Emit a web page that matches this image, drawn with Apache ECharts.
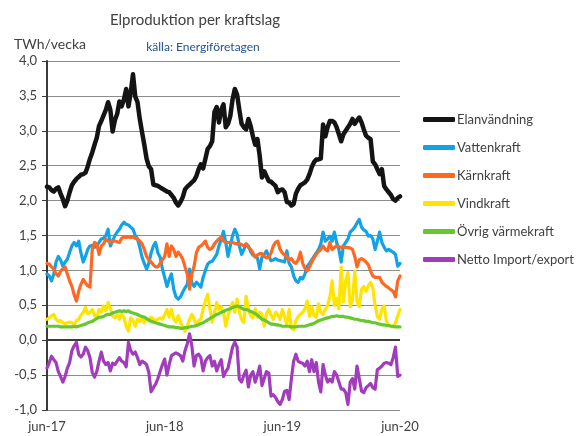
<!DOCTYPE html>
<html>
<head>
<meta charset="utf-8">
<script src="https://cdn.jsdelivr.net/npm/echarts@6/dist/echarts.min.js"></script>
<style>
  html, body { margin: 0; padding: 0; background: #fff; }
  #chart { width: 579px; height: 436px; }
</style>
</head>
<body>
<div id="chart"></div>
<script>
// veckor jun-17 .. jun-20 (157 veckor)
var weeks = [];
for (var i = 0; i < 157; i++) {
    weeks.push('v' + i);
}
var tickIdx = [0, 52, 104, 156];
var tickLabels = ['jun-17', 'jun-18', 'jun-19', 'jun-20'];

var seriesNames = ['Elanvändning', 'Vattenkraft', 'Kärnkraft', 'Vindkraft', 'Övrig värmekraft', 'Netto Import/export'];
var seriesColors = ['#141414', '#12a2e6', '#ff6822', '#ffe400', '#66c72e', '#a13dbd'];

var elanvandning = [
    2.2, 2.19, 2.15, 2.13, 2.17, 2.19, 2.1, 2.02, 1.92, 2.0,
    2.12, 2.22, 2.27, 2.31, 2.34, 2.37, 2.38, 2.4, 2.49, 2.6,
    2.69, 2.8, 2.9, 3.07, 3.14, 3.22, 3.3, 3.41, 3.3, 2.99,
    3.15, 3.24, 3.42, 3.35, 3.45, 3.6, 3.35, 3.55, 3.81, 3.49,
    3.41, 3.17, 2.98, 2.8, 2.6, 2.49, 2.45, 2.23, 2.22, 2.21,
    2.19, 2.17, 2.15, 2.13, 2.12, 2.08, 2.04, 1.97, 1.93, 1.98,
    2.05, 2.16, 2.2, 2.23, 2.26, 2.29, 2.35, 2.45, 2.52, 2.46,
    2.6, 2.74, 2.78, 2.85, 3.27, 3.34, 3.12, 3.3, 3.38, 3.05,
    3.1, 3.21, 3.45, 3.6, 3.52, 3.3, 3.1, 3.05, 3.02, 3.17,
    3.07, 2.92, 2.8, 2.88, 2.64, 2.33, 2.42, 2.35, 2.28, 2.27,
    2.24, 2.21, 2.12, 2.15, 2.16, 2.12, 1.98, 1.97, 1.93, 1.95,
    2.1, 2.17, 2.22, 2.24, 2.26, 2.3, 2.38, 2.48, 2.55, 2.59,
    2.59, 2.6, 3.09, 2.92, 3.05, 3.14, 3.14, 3.12, 3.05, 2.95,
    2.85, 2.95, 3.0, 3.05, 3.1, 3.17, 3.1, 3.15, 3.19, 3.12,
    3.02, 2.93, 2.9, 2.88, 2.56, 2.52, 2.45, 2.38, 2.45, 2.21,
    2.16, 2.12, 2.08, 2.02, 2.0, 2.04, 2.06
];

var vattenkraft = [
    0.95, 0.92, 0.85, 0.95, 1.12, 1.2, 1.15, 1.06, 1.12, 1.16,
    1.26, 1.35, 1.4, 1.35, 1.42, 1.25, 1.12, 1.2, 1.3, 1.35,
    1.36, 1.33, 1.35, 1.4, 1.45, 1.46, 1.5, 1.59, 1.35, 1.42,
    1.5, 1.55, 1.59, 1.65, 1.69, 1.66, 1.65, 1.62, 1.59, 1.5,
    1.45, 1.33, 1.19, 1.1, 1.02, 1.1, 1.25, 1.35, 1.4, 1.25,
    1.19, 1.02, 0.9, 0.77, 0.87, 0.95, 0.73, 0.62, 0.59, 0.62,
    0.69, 0.75, 0.8, 1.02, 0.82, 0.77, 0.83, 0.8, 0.76, 0.9,
    1.0, 1.09, 1.12, 1.13, 1.18, 1.23, 1.35, 1.45, 1.56, 1.4,
    1.2, 1.35, 1.5, 1.59, 1.52, 1.35, 1.23, 1.3, 1.38, 1.35,
    1.27, 1.22, 1.2, 1.18, 1.02, 1.19, 1.23, 1.28, 1.2, 1.14,
    1.15, 1.17, 1.15, 1.14, 1.13, 1.12, 1.28, 1.1, 1.05, 0.92,
    0.85, 0.83, 0.9, 0.88, 0.95, 1.06, 1.1, 1.15, 1.2, 1.25,
    1.3, 1.38, 1.55, 1.42, 1.45, 1.49, 1.42, 1.55, 1.4, 1.3,
    1.12, 1.35, 1.4, 1.45, 1.55, 1.58, 1.62, 1.68, 1.73, 1.62,
    1.58, 1.56, 1.49, 1.5, 1.45, 1.3, 1.42, 1.55, 1.4, 1.33,
    1.28, 1.3, 1.28, 1.26, 1.23, 1.06, 1.1
];

var karnkraft = [
    1.1, 1.09, 1.05, 1.02, 0.95, 0.92, 0.99, 1.02, 1.05, 0.95,
    0.85, 0.77, 0.65, 0.56, 0.7, 0.8, 0.87, 0.82, 0.78, 0.76,
    1.3, 1.4, 1.38, 1.23, 1.35, 1.38, 1.45, 1.42, 1.4, 1.43,
    1.42, 1.41, 1.4, 1.46, 1.48, 1.47, 1.48, 1.47, 1.48, 1.46,
    1.45, 1.42, 1.38, 1.3, 1.2, 1.15, 1.12, 1.08, 1.05, 1.05,
    1.1, 1.15, 1.2, 1.38, 1.2, 1.35, 1.3, 1.2, 1.26, 1.22,
    1.16, 1.05, 0.95, 0.73, 0.95, 1.06, 1.25, 1.33, 1.35, 1.38,
    1.42, 1.33, 1.3, 1.32, 1.38, 1.42, 1.45, 1.48, 1.42, 1.4,
    1.4, 1.4, 1.4, 1.39, 1.38, 1.38, 1.37, 1.35, 1.38, 1.33,
    1.3, 1.25, 1.19, 1.22, 1.24, 1.24, 1.2, 1.18, 1.19, 1.25,
    1.35, 1.4, 1.42, 1.3, 1.25, 1.22, 1.2, 1.15, 1.17, 1.12,
    1.1, 1.15, 1.26, 1.1, 1.03, 0.99, 1.05, 1.12, 1.18, 1.23,
    1.27, 1.3, 1.35, 1.3, 1.28, 1.4, 1.3, 1.33, 1.35, 1.34,
    1.33, 1.34, 1.33, 1.33, 1.32, 1.3, 1.2, 1.05, 1.15, 1.17,
    1.15, 1.12, 1.08, 0.99, 0.92, 0.9, 0.9, 0.9, 0.83, 0.8,
    0.77, 0.75, 0.72, 0.7, 0.62, 0.85, 0.92
];

var vindkraft = [
    0.3, 0.32, 0.35, 0.37, 0.3, 0.27, 0.28, 0.25, 0.23, 0.25,
    0.26, 0.25, 0.22, 0.28, 0.3, 0.36, 0.4, 0.47, 0.38, 0.4,
    0.44, 0.35, 0.32, 0.44, 0.4, 0.49, 0.42, 0.54, 0.45, 0.35,
    0.32, 0.36, 0.3, 0.37, 0.33, 0.2, 0.13, 0.32, 0.28, 0.2,
    0.3, 0.27, 0.31, 0.25, 0.3, 0.28, 0.33, 0.3, 0.28, 0.3,
    0.32, 0.3, 0.36, 0.44, 0.33, 0.44, 0.3, 0.26, 0.35, 0.25,
    0.19, 0.13, 0.2, 0.3, 0.37, 0.3, 0.22, 0.28, 0.3, 0.45,
    0.56, 0.66, 0.45, 0.26, 0.4, 0.54, 0.44, 0.48, 0.4, 0.2,
    0.35, 0.45, 0.54, 0.4, 0.59, 0.4, 0.3, 0.25, 0.63, 0.45,
    0.35, 0.32, 0.45, 0.33, 0.4, 0.37, 0.2, 0.38, 0.44, 0.36,
    0.3, 0.4, 0.36, 0.3, 0.44, 0.33, 0.23, 0.44, 0.17, 0.15,
    0.28, 0.34, 0.37, 0.4, 0.45, 0.56, 0.34, 0.48, 0.35, 0.33,
    0.52, 0.4, 0.37, 0.44, 0.5, 0.62, 0.85, 0.5, 0.6, 0.45,
    1.05, 0.55, 0.85, 0.97, 0.48, 0.58, 0.99, 0.55, 0.48, 0.73,
    0.77, 0.7, 0.78, 0.83, 0.75, 0.5, 0.34, 0.3, 0.45, 0.49,
    0.27, 0.22, 0.2, 0.19, 0.25, 0.35, 0.44
];

var ovrigVarmekraft = [
    0.2, 0.2, 0.2, 0.2, 0.2, 0.2, 0.19, 0.19, 0.19, 0.19,
    0.19, 0.19, 0.2, 0.19, 0.2, 0.21, 0.22, 0.23, 0.25, 0.26,
    0.27, 0.29, 0.31, 0.33, 0.33, 0.34, 0.36, 0.37, 0.37, 0.39,
    0.4, 0.41, 0.42, 0.41, 0.42, 0.41, 0.42, 0.4, 0.39, 0.38,
    0.37, 0.35, 0.34, 0.33, 0.31, 0.29, 0.27, 0.26, 0.25, 0.24,
    0.23, 0.22, 0.21, 0.2, 0.19, 0.19, 0.19, 0.18, 0.18, 0.17,
    0.17, 0.18, 0.18, 0.19, 0.2, 0.2, 0.21, 0.22, 0.24, 0.25,
    0.27, 0.29, 0.31, 0.33, 0.35, 0.37, 0.38, 0.4, 0.41, 0.43,
    0.44, 0.45, 0.47, 0.48, 0.49, 0.48, 0.46, 0.44, 0.44, 0.43,
    0.41, 0.4, 0.38, 0.36, 0.33, 0.3, 0.29, 0.27, 0.25, 0.23,
    0.23, 0.22, 0.22, 0.21, 0.2, 0.2, 0.2, 0.2, 0.19, 0.19,
    0.19, 0.2, 0.2, 0.2, 0.2, 0.21, 0.22, 0.23, 0.24, 0.26,
    0.28, 0.29, 0.3, 0.31, 0.32, 0.33, 0.34, 0.34, 0.35, 0.34,
    0.34, 0.34, 0.33, 0.33, 0.32, 0.31, 0.3, 0.3, 0.29, 0.28,
    0.28, 0.27, 0.27, 0.26, 0.25, 0.25, 0.24, 0.23, 0.22, 0.22,
    0.21, 0.21, 0.2, 0.2, 0.19, 0.19, 0.19
];

var nettoImportExport = [
    -0.4, -0.32, -0.23, -0.28, -0.32, -0.45, -0.52, -0.6, -0.52, -0.4,
    -0.32, -0.15, -0.08, -0.03, -0.2, -0.24, -0.2, -0.1, -0.15, -0.25,
    -0.46, -0.53, -0.45, -0.3, -0.17, -0.3, -0.35, -0.32, -0.44, -0.33,
    -0.35, -0.3, -0.25, -0.3, -0.32, -0.38, -0.03, -0.15, -0.2, -0.17,
    -0.25, -0.35, -0.3, -0.32, -0.35, -0.46, -0.74, -0.68, -0.63, -0.55,
    -0.45, -0.35, -0.27, -0.5, -0.35, -0.22, -0.2, -0.18, -0.2, -0.22,
    -0.3, -0.15, -0.05, 0.09, -0.08, -0.37, -0.22, -0.2, -0.25, -0.44,
    -0.3, -0.25, -0.22, -0.37, -0.3, -0.44, -0.35, -0.28, -0.52, -0.45,
    -0.4, -0.25, -0.1, -0.03, -0.1, -0.56, -0.6, -0.5, -0.43, -0.67,
    -0.5, -0.45, -0.6, -0.5, -0.37, -0.65, -0.55, -0.45, -0.47, -0.8,
    -0.78, -0.82, -0.88, -0.92, -0.85, -0.73, -0.72, -0.85, -0.55, -0.3,
    -0.2, -0.3, -0.32, -0.33, -0.37, -0.3, -0.45, -0.28, -0.45, -0.32,
    -0.6, -0.74, -0.35, -0.5, -0.6, -0.56, -0.6, -0.45, -0.5, -0.6,
    -0.7, -0.7, -0.75, -0.92, -0.6, -0.55, -0.7, -0.37, -0.55, -0.73,
    -0.75, -0.68, -0.65, -0.62, -0.68, -0.7, -0.42, -0.4, -0.37, -0.33,
    -0.32, -0.33, -0.35, -0.25, -0.1, -0.52, -0.5
];

var seriesData = [elanvandning, vattenkraft, karnkraft, vindkraft, ovrigVarmekraft, nettoImportExport];

var textColor = '#404040';
var fontFamily = 'Lato, "Liberation Sans", sans-serif';

var series = [];
for (var s = 0; s < seriesNames.length; s++) {
    series.push({
        name: seriesNames[s],
        type: 'line',
        data: seriesData[s],
        symbol: 'none',
        smooth: false,
        color: seriesColors[s],
        lineStyle: { width: s == 0 ? 4.5 : 3.2, color: seriesColors[s], join: 'round', cap: 'round' },
        z: 2 + s,
    });
}
// nollinje (horisontell axel vid 0)
series[0].markLine = {
    silent: true,
    symbol: 'none',
    label: { show: false },
    lineStyle: { color: '#3a3a3a', width: 2, type: 'solid' },
    data: [{ yAxis: 0 }],
    z: 1,
};

var chart = echarts.init(document.getElementById('chart'), null, { renderer: 'canvas' });
chart.setOption({
    animation: false,
    backgroundColor: '#ffffff',
    textStyle: { fontFamily: fontFamily },
    title: [
        {
            text: 'Elproduktion per kraftslag',
            left: 190,
            top: 8,
            textAlign: 'center',
            textStyle: { fontSize: 15, fontWeight: 'normal', color: textColor, fontFamily: fontFamily },
        },
        {
            text: 'källa: Energiföretagen',
            left: 198,
            top: 36,
            textAlign: 'center',
            textStyle: { fontSize: 12, fontWeight: 'normal', color: '#24538f', fontFamily: fontFamily },
        },
        {
            text: 'TWh/vecka',
            left: 9,
            top: 32,
            textStyle: { fontSize: 14, fontWeight: 'normal', color: textColor, fontFamily: fontFamily },
        },
    ],
    legend: {
        orient: 'vertical',
        left: 418,
        top: 108,
        itemWidth: 32,
        itemHeight: 5,
        itemGap: 15,
        icon: 'roundRect',
        data: seriesNames,
        textStyle: { fontSize: 13, color: textColor, fontFamily: fontFamily, padding: [0, 0, 0, -3] },
    },
    grid: { left: 47, right: 179, top: 61, bottom: 26, containLabel: false },
    xAxis: {
        type: 'category',
        data: weeks,
        boundaryGap: false,
        axisLine: { show: false },
        axisTick: { show: false },
        axisLabel: {
            interval: function (idx) {
                return tickIdx.indexOf(idx) >= 0;
            },
            formatter: function (val, idx) {
                var k = tickIdx.indexOf(idx);
                return k >= 0 ? tickLabels[k] : '';
            },
            color: textColor,
            fontSize: 13,
            margin: 10,
            fontFamily: fontFamily,
            showMinLabel: true,
            showMaxLabel: true,
        },
        splitLine: { show: false },
    },
    yAxis: {
        type: 'value',
        min: -1,
        max: 4,
        interval: 0.5,
        axisLine: { show: true, lineStyle: { color: '#3a3a3a', width: 2 } },
        axisTick: { show: true, length: 5, lineStyle: { color: '#3a3a3a' } },
        axisLabel: {
            color: textColor,
            fontSize: 13,
            margin: 10,
            fontFamily: fontFamily,
            formatter: function (v) {
                return v.toFixed(1).replace('.', ',');
            },
        },
        splitLine: { show: true, lineStyle: { color: '#8c8c8c', width: 1 } },
    },
    series: series,
});
</script>
</body>
</html>
